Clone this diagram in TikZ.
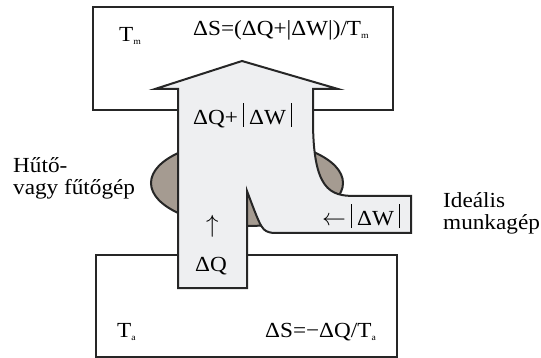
\documentclass[tikz,border=0pt]{standalone}
\usepackage{fontspec}
\usepackage{graphicx}
\setmainfont[FakeStretch=1.08]{Liberation Serif}
\newcommand{\tbar}{\hspace{5pt}\rule[-2pt]{1.1pt}{24pt}\hspace{5pt}}
\newcommand{\sbs}[1]{\raisebox{-3pt}{\fontsize{9}{9}\selectfont #1}}
\definecolor{pipefill}{HTML}{EEEFF1}
\definecolor{machfill}{HTML}{A59B91}
\begin{document}
\begin{tikzpicture}[x=1pt,y=-1pt,
  lbl/.style={inner sep=0pt, anchor=base west, font=\fontsize{21.5}{24}\selectfont},
  frame/.style={line width=2pt, draw=black!85},
  pipe/.style={line width=2pt, draw=black!85, fill=pipefill, line join=miter},
  mach/.style={line width=2pt, draw=black!85, fill=machfill}]
\useasboundingbox (0,0) rectangle (541,358);
\draw[frame] (93,7) rectangle (393,110);
\draw[frame] (96,255) rectangle (397,357);
\draw[mach] (247,183) ellipse [x radius=96, y radius=43];
\draw[pipe] (178,288) -- (178,89) -- (155,89) -- (242,61) -- (338,89) -- (313,89)
  -- (313,120) .. controls (313,190) and (330,196) .. (355,196)
  -- (411,196) -- (411,233) -- (273,233)
  .. controls (262,231) .. (247,191) -- (247,288) -- cycle;
\node[lbl] (tm) at (119,42) {T\sbs{m}};
\node[lbl] (dsm) at (193,36) {ΔS=(ΔQ+|ΔW|)/T\sbs{m}};
\node[lbl] (flow) at (193,125) {ΔQ+\tbar ΔW\tbar};
\node[lbl] (up) at (206,233) {\scalebox{1.2}{$\uparrow$}};
\node[lbl] (dq) at (195,272) {ΔQ};
\node[lbl] (dw) at (322,226) {\scalebox{1.15}{$\leftarrow$}\tbar ΔW\tbar};
\node[lbl] (ta) at (117,337) {T\sbs{a}};
\node[lbl] (dsa) at (265,337) {ΔS=−ΔQ/T\sbs{a}};
\node[lbl] (h1) at (13,173) {Hűtő-};
\node[lbl] (h2) at (13,195) {vagy fűtőgép};
\node[lbl] (i1) at (443,208) {Ideális};
\node[lbl] (i2) at (443,230) {munkagép};
\end{tikzpicture}
\end{document}
